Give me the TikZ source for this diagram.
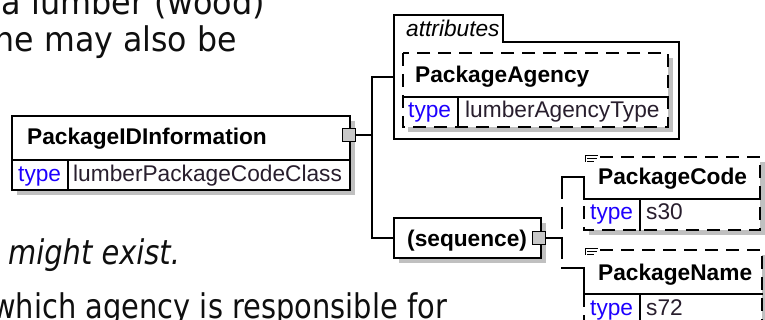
\documentclass[tikz,border=0pt]{standalone}
\usepackage{fontspec}
\setmainfont{Liberation Sans}
\newfontfamily\bodyfont{DejaVu Sans}
\definecolor{shadowc}{RGB}{192,192,192}
\definecolor{sqfill}{RGB}{200,200,200}
\definecolor{typeblue}{RGB}{30,0,255}
\definecolor{valc}{RGB}{40,30,45}
\definecolor{bodyc}{RGB}{15,15,15}
\begin{document}
\begin{tikzpicture}[x=1pt,y=-1pt,
  conn/.style={line width=1.8pt, line cap=rect},
  boxdash/.style={line width=1.8pt, dash pattern=on 13pt off 8pt},
  seqdash/.style={line width=1.8pt, dash pattern=on 22pt off 8pt},
  shade/.style={fill=shadowc, draw=none},
  box/.style={draw=black, line width=1.8pt, fill=white, inner sep=0pt, outer sep=0pt, anchor=north west},
  plain/.style={draw=none, fill=white, inner sep=0pt, outer sep=0pt, anchor=north west},
  ttl/.style={font=\fontsize{22.7}{26}\selectfont\bfseries, anchor=base west, inner sep=0pt},
  typ/.style={font=\fontsize{22.7}{26}\selectfont, text=typeblue, anchor=base west, inner sep=0pt},
  val/.style={font=\fontsize{22.7}{26}\selectfont, text=valc, anchor=base west, inner sep=0pt},
  attl/.style={font=\fontsize{22.7}{26}\selectfont\itshape, anchor=base west, inner sep=0pt},
  bodytxt/.style={font=\bodyfont\fontsize{34}{40}\selectfont, text=bodyc, inner sep=0pt},
  sq/.style={draw=black, fill=sqfill, line width=1.3pt, minimum size=13pt, inner sep=0pt, outer sep=0pt},
  icon/.style={line width=1pt}
]
\useasboundingbox (0,0) rectangle (765,320);
\clip (0,0) rectangle (765,320);
\fill[white] (0,0) rectangle (765,320);

% body text fragments
\node[bodytxt, anchor=base east, xscale=0.937] (t1) at (265,15) {a lumber (wood)};
\node[bodytxt, anchor=base east, xscale=0.93] (t2) at (237,52) {ne may also be};
\node[bodytxt, anchor=base west, xscale=0.85, font=\bodyfont\fontsize{34}{40}\selectfont\itshape] (t3) at (8,265) {might exist.};
\node[bodytxt, anchor=base east, xscale=0.85] (t4) at (447,318) {which agency is responsible for};

% PackageIDInformation
\fill[shade] (17,121) rectangle (355,195);
\node[box, minimum width=338pt, minimum height=74pt] (pid) at (12,116) {};
\draw[conn] (12,160) -- (350,160);
\draw[conn] (68,160) -- (68,190);
\node[ttl] (pidt) at (27,145) {PackageIDInformation};
\node[typ] (pidty) at (18,182) {type};
\node[val] (pidv) at (73,182) {lumberPackageCodeClass};
\node[sq] (pidsq) at (349,135) {};

% attributes group
\node[plain, fill=none, minimum width=285pt, minimum height=124pt] (attr) at (394,15) {};
\draw[conn, line cap=butt] (394,139) -- (394,15) -- (503,15) -- (503,42) -- (679,42) -- (679,139) -- cycle;
\node[attl] (attrt) at (406,37) {attributes};

% PackageAgency
\fill[shade] (408,58) rectangle (673,132);
\node[plain, minimum width=265pt, minimum height=74pt] (pa) at (403,53) {};
\draw[boxdash] (403,53) rectangle (668,127);
\draw[conn] (403,97) -- (668,97);
\draw[conn] (458,97) -- (458,127);
\node[ttl] (pat) at (415,83) {PackageAgency};
\node[typ] (paty) at (408,118) {type};
\node[val] (pav) at (465,118) {lumberAgencyType};

% sequence
\fill[shade] (399,223) rectangle (546,263);
\node[box, minimum width=147pt, minimum height=40pt] (seq) at (394,218) {};
\node[ttl] (seqt) at (407,247) {(sequence)};
\node[sq] (seqsq) at (539,238) {};

% connectors from PackageIDInformation
\coordinate (j1) at (372,135);
\draw[conn] (pidsq.east) -- (j1);
\draw[conn] (attr.west) -| (j1) |- (seq.west);

% sequence branches
\coordinate (j2) at (562,238);
\coordinate (ctop) at (562,177);
\coordinate (cbot) at (562,268);
\coordinate (pcin) at (584,177);
\coordinate (pnin) at (584,268);
\draw[conn] (seqsq.east) -- (j2);
\draw[seqdash] (ctop) -- (cbot);
\draw[conn] (ctop) -- (pcin);
\draw[conn] (cbot) -- (pnin);

% PackageCode
\fill[shade] (589,162) rectangle (765,235);
\node[plain, minimum width=176pt, minimum height=73pt] (pc) at (584,157) {};
\draw[boxdash] (600,157) -- (760,157) -- (760,230) -- (584,230) -- (584,199);
\draw[conn] (pcin) -- (584,199) -- (760,199);
\draw[conn] (640,199) -- (640,230);
\draw[icon] (585,162) -- (585,155.5) -- (598,155.5);
\draw[icon] (587,158.5) -- (597,158.5);
\draw[icon] (587,161.5) -- (594,161.5);
\node[ttl] (pct) at (598,185) {PackageCode};
\node[typ] (pcty) at (590,220) {type};
\node[val] (pcv) at (646,220) {s30};

% PackageName
\fill[shade] (589,255) rectangle (767,340);
\node[plain, minimum width=178pt, minimum height=90pt] (pn) at (584,250) {};
\draw[boxdash] (600,250) -- (762,250) -- (762,340);
\draw[boxdash] (584,294) -- (584,340);
\draw[conn] (pnin) -- (584,294) -- (762,294);
\draw[conn] (640,294) -- (640,340);
\draw[icon] (585,255) -- (585,248.5) -- (598,248.5);
\draw[icon] (587,251.5) -- (597,251.5);
\draw[icon] (587,254.5) -- (594,254.5);
\node[ttl] (pnt) at (598,280) {PackageName};
\node[typ] (pnty) at (590,315) {type};
\node[val] (pnv) at (646,315) {s72};
\end{tikzpicture}
\end{document}
